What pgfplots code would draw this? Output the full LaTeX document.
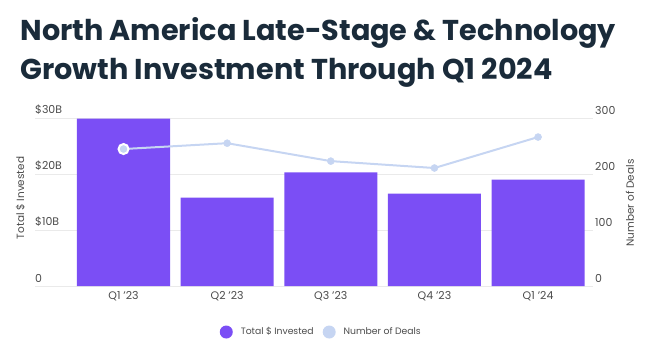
\documentclass[border=0pt]{standalone}
\usepackage{pgfplots}
\pgfplotsset{compat=1.18}
\usepackage{fontspec}
\setmainfont{Poppins}
\definecolor{barcol}{RGB}{123,78,245}
\definecolor{linecol}{RGB}{198,213,242}
\definecolor{titlecol}{RGB}{26,43,58}
\definecolor{labcol}{RGB}{75,75,75}
\definecolor{gridcol}{RGB}{234,234,234}
\begin{document}
\begin{tikzpicture}
\useasboundingbox (-35bp,-66bp) rectangle (625bp,286bp);
\begin{axis}[name=ax, at={(0,0)}, anchor=south west, scale only axis,
  width=558bp, height=168bp,
  xmin=-0.854, xmax=4.53, ymin=0, ymax=30,
  xtick={0,1,2,3,4}, xticklabels={Q1 '23, Q2 '23, Q3 '23, Q4 '23, Q1 '24},
  ytick={0,10,20,30}, yticklabels={0,\$10B,\$20B,\$30B},
  axis line style={draw=none}, major tick length=0pt,
  ymajorgrids, grid style={gridcol, line width=0.8bp},
  yticklabel style={anchor=south west, inner sep=0pt, yshift=3bp, font=\fontsize{11}{13}\selectfont, text=labcol},
  xticklabel style={font=\fontsize{11}{13}\selectfont, text=labcol, yshift=-2bp},
  ylabel={Total \$ Invested},
  every axis y label/.style={at={(axis description cs:-0.026,0.524)}, anchor=center, rotate=90, font=\fontsize{10.5}{12}\selectfont, text=labcol},
  clip=false]
\addplot[ybar, bar width=0.898, fill=barcol, draw=none] coordinates {(0,29.9)(1,15.8)(2,20.3)(3,16.5)(4,19.0)};
\end{axis}
\begin{axis}[at={(0,0)}, anchor=south west, scale only axis,
  width=558bp, height=168bp,
  xmin=-0.854, xmax=4.53, ymin=0, ymax=300,
  axis y line*=right, axis x line=none,
  ytick={0,100,200,300}, yticklabels={0,100,200,300},
  axis line style={draw=none}, major tick length=0pt,
  yticklabel style={anchor=south west, inner sep=0pt, xshift=2bp, yshift=3bp, font=\fontsize{11}{13}\selectfont, text=labcol},
  ylabel={Number of Deals},
  every axis y label/.style={at={(axis description cs:1.066,0.494)}, anchor=center, rotate=90, font=\fontsize{10.5}{12}\selectfont, text=labcol},
  legend style={at={(axis description cs:0.513,-0.274)}, anchor=center, draw=none, fill=none,
    font=\fontsize{9.3}{11}\selectfont, text=labcol, legend columns=2,
    /tikz/every even column/.append style={column sep=7bp}},
  legend cell align=left,
  clip=false]
\addlegendimage{legend image code/.code={\fill[barcol, draw=none] (0bp,0bp) circle (6.5bp); \path[draw=none, fill=none] (-6.5bp,0bp) rectangle (12.5bp,0.1bp);}}
\addlegendentry{Total \$ Invested}
\addplot[linecol, line width=2bp, mark=*, mark size=3.5bp, mark options={fill=linecol, draw=linecol, line width=0.5bp},
  legend image code/.code={\fill[linecol, draw=none] (0bp,0bp) circle (6.5bp); \path[draw=none, fill=none] (-6.5bp,0bp) rectangle (12.5bp,0.1bp);}]
  coordinates {(0,244.6)(1,255)(2,223)(3,210.7)(4,266)};
\addlegendentry{Number of Deals}
\addplot[only marks, mark=*, mark size=5bp, mark options={fill=linecol, draw=white, line width=2bp}, forget plot]
  coordinates {(0,244.6)};
\end{axis}
\node[anchor=base west, font=\fontsize{28.8}{34}\selectfont\bfseries, text=titlecol] at (-18bp,245bp) {North America Late-Stage \& Technology};
\node[anchor=base west, font=\fontsize{28.8}{34}\selectfont\bfseries, text=titlecol] at (-18bp,206bp) {Growth Investment Through Q1 2024};
\end{tikzpicture}
\end{document}
